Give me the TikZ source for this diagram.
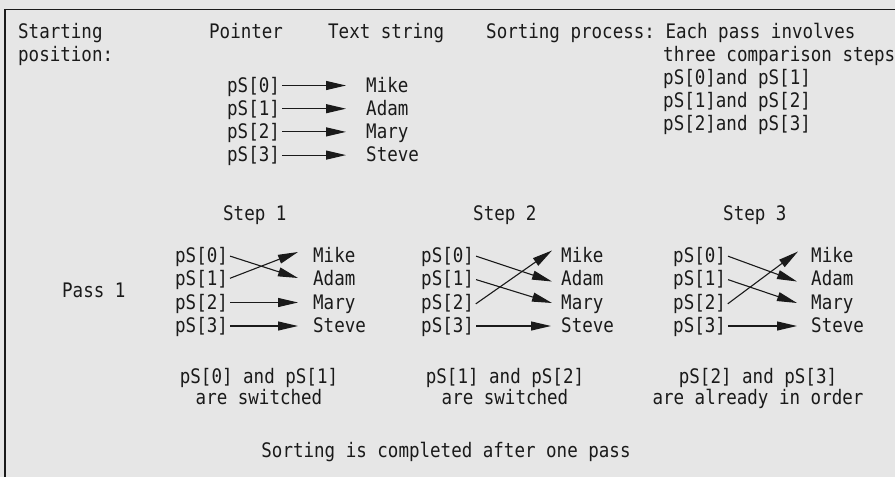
\documentclass[tikz,border=0pt]{standalone}
\usepackage{fontspec}
\setmonofont[FakeStretch=0.876]{DejaVu Sans Mono}
\usetikzlibrary{arrows.meta}
\definecolor{bg}{HTML}{E6E6E6}
\definecolor{ink}{HTML}{1A1A1A}
\begin{document}
\begin{tikzpicture}[x=1pt,y=-1pt,
  txt/.style={inner sep=0pt, anchor=base west, text=ink, font=\ttfamily\fontsize{20}{24}\selectfont},
  captext/.style={inner sep=0pt, anchor=base, align=center, text=ink, font=\ttfamily\fontsize{20}{17.5}\selectfont},
  ptr/.style={txt, text height=13pt, text depth=0pt},
  arr/.style={-{Triangle[length=20pt,width=9pt]}, draw=ink, line width=1.1pt, shorten <=2pt}
]
\useasboundingbox (0,0) rectangle (895,477);
\fill[bg] (0,0) rectangle (895,477);
\draw[line width=1.5pt, ink] (895,9.5) -- (4.75,9.5) -- (4.75,477);

% header
\node[txt] (h1) at (18,38) {Starting};
\node[txt] (h2) at (18,61) {position:};
\node[txt] (h3) at (209,38) {Pointer};
\node[txt] (h4) at (328,38) {Text string};
\node[txt] (h5) at (486,38) {Sorting process: Each pass involves};
\node[txt] (h6) at (663,61) {three comparison steps};
\node[txt] (h7) at (663,84) {pS[0]and pS[1]};
\node[txt] (h8) at (663,107) {pS[1]and pS[2]};
\node[txt] (h9) at (663,130) {pS[2]and pS[3]};

% starting position
\foreach \i/\nm in {0/Mike,1/Adam,2/Mary,3/Steve} {
  \pgfmathsetmacro\yy{92+23.2*\i}
  \node[ptr] (tp\i) at (227,\yy) {pS[\i]};
  \node[ptr] (tn\i) at (366,\yy) {\nm};
  \draw[arr, shorten >=20pt] (tp\i.east) -- (tn\i.west);
}

% steps
\node[txt] (st1) at (223,220) {Step 1};
\node[txt] (st2) at (473,220) {Step 2};
\node[txt] (st3) at (723,220) {Step 3};
\node[txt] (pass) at (62,297) {Pass 1};

\foreach \s/\px/\nx in {1/175/313, 2/421/561, 3/673/811} {
  \foreach \i/\nm in {0/Mike,1/Adam,2/Mary,3/Steve} {
    \pgfmathsetmacro\yy{262+23.5*\i}
    \node[ptr] (p\s\i) at (\px,\yy) {pS[\i]};
    \node[ptr] (n\s\i) at (\nx,\yy) {\nm};
  }
}

% step 1
\draw[arr] (p10.east) -- ([xshift=-15pt,yshift=1pt]n11.west);
\draw[arr] (p11.east) -- ([xshift=-15pt,yshift=3.5pt]n10.west);
\draw[arr] (p12.east) -- ([xshift=-15pt]n12.west);
\draw[arr] (p13.east) -- ([xshift=-15pt]n13.west);
% step 2
\draw[arr] (p20.east) -- ([xshift=-9pt,yshift=-2.5pt]n21.west);
\draw[arr] (p21.east) -- ([xshift=-9pt,yshift=-0.5pt]n22.west);
\draw[arr] ([yshift=-2.5pt]p22.east) -- ([xshift=-9pt,yshift=5pt]n20.west);
\draw[arr] (p23.east) -- ([xshift=-10pt]n23.west);
% step 3
\draw[arr] (p30.east) -- ([xshift=-14pt,yshift=-2.5pt]n31.west);
\draw[arr] (p31.east) -- ([xshift=-14pt,yshift=-0.5pt]n32.west);
\draw[arr] ([yshift=-2.5pt]p32.east) -- ([xshift=-13pt,yshift=4pt]n30.west);
\draw[arr] (p33.east) -- ([xshift=-14pt]n33.west);

% captions (anchor base = baseline of last line)
\node[captext] (c1) at (259,404) {pS[0] and pS[1]\\are switched};
\node[captext] (c2) at (505,404) {pS[1] and pS[2]\\are switched};
\node[captext] (c3) at (758,404) {pS[2] and pS[3]\\are already in order};
\node[txt, anchor=base] (fin) at (446,457) {Sorting is completed after one pass};
\end{tikzpicture}
\end{document}
